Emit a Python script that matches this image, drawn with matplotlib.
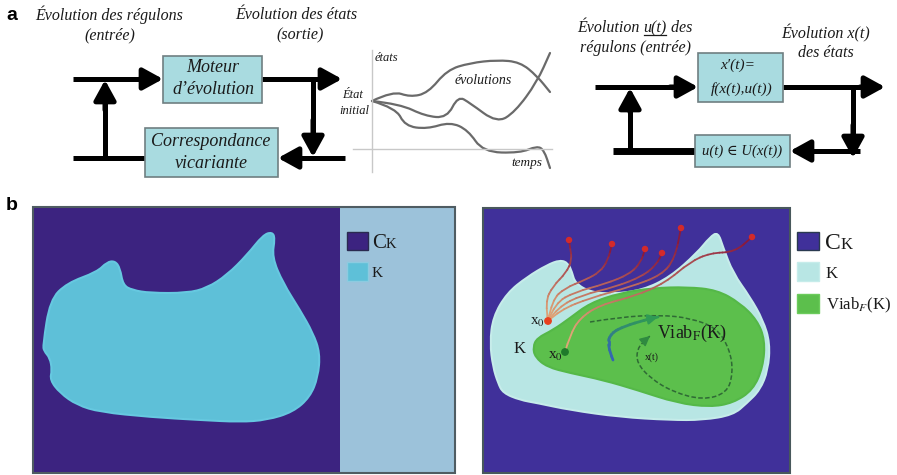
import numpy as np
import matplotlib.pyplot as plt
from matplotlib.path import Path
from matplotlib.patches import PathPatch, Rectangle, Circle
from matplotlib.collections import LineCollection
from matplotlib.colors import to_rgb

plt.rcParams['mathtext.fontset'] = 'stix'
SERIF = ['Liberation Serif', 'DejaVu Serif']
SANS = ['Liberation Sans', 'DejaVu Sans']

# --- panel a: sketch of state evolutions (three curves from the initial state)
evol_a = [(372, 101), (393, 91), (410, 97), (428, 93), (447, 70), (470, 63),
          (497, 60), (520, 62), (537, 76), (550, 92)]
evol_b = [(372, 101), (400, 104), (425, 116), (447, 118), (458, 96), (470, 103),
          (497, 123), (515, 112), (537, 82), (550, 53)]
evol_c = [(372, 101), (396, 108), (405, 126), (427, 129), (450, 122), (468, 130),
          (483, 152), (520, 153), (537, 146), (544, 150), (550, 168)]

# --- panel b: set K (left), set K and viability kernel (right)
k_left = [(43, 345), (50, 300), (67, 283), (97, 272), (107, 262), (115, 261),
          (120, 268), (123, 285), (132, 290), (150, 293), (187, 293), (207, 288),
          (227, 275), (247, 255), (263, 235), (272, 232), (275, 238), (272, 257),
          (283, 283), (300, 310), (313, 333), (320, 353), (318, 377), (310, 397),
          (293, 412), (267, 420), (240, 422), (200, 420), (150, 417), (100, 412),
          (77, 405), (60, 393), (50, 380), (52, 370), (50, 358), (44, 351)]
k_right = [(498, 383), (493, 367), (490, 343), (493, 317), (507, 293), (527, 277),
           (547, 265), (560, 260), (568, 263), (572, 272), (575, 283), (590, 292),
           (613, 294), (643, 290), (670, 277), (697, 253), (710, 237), (718, 232),
           (723, 247), (733, 273), (750, 297), (763, 320), (770, 343), (768, 370),
           (760, 390), (747, 403), (733, 415), (703, 420), (670, 420), (620, 417),
           (570, 410), (537, 403), (520, 400), (503, 393)]
viab = [(533, 347), (537, 338), (553, 330), (570, 318), (590, 303), (620, 293),
        (653, 288), (687, 287), (717, 290), (740, 303), (757, 320), (765, 340),
        (763, 367), (753, 390), (733, 403), (710, 407), (677, 403), (637, 390),
        (603, 380), (570, 373), (547, 367), (535, 357)]

# trajectories leaving K from the red x0, and the one from the green x0
traj_out = [
    [(548, 321), (545, 302), (553, 286), (566, 273), (572, 260), (570, 247), (569, 240)],
    [(548, 321), (552, 300), (565, 288), (585, 280), (600, 272), (608, 260), (612, 244)],
    [(548, 321), (555, 303), (575, 292), (605, 284), (630, 274), (641, 262), (645, 249)],
    [(548, 321), (558, 307), (582, 295), (615, 287), (643, 276), (657, 264), (662, 253)],
    [(548, 321), (560, 310), (590, 298), (630, 287), (662, 275), (675, 258), (681, 228)],
    [(565, 352), (570, 335), (580, 318), (600, 305), (635, 296), (665, 283), (690, 262),
     (710, 253), (735, 252), (752, 237)],
]
blue_arrow = [(613, 360), (607, 345), (611, 333), (625, 326), (645, 320), (658, 317)]
spiral = [(590, 322), (620, 317), (660, 315), (690, 318), (717, 328), (730, 350),
          (733, 373), (727, 393), (703, 400), (673, 392), (650, 378), (637, 363),
          (637, 350), (643, 342), (650, 336)]


def smooth(points, closed=False):
    p = np.asarray(points, float)
    if closed:
        mids = (p + np.roll(p, -1, axis=0)) / 2
        verts = [mids[-1]]
        codes = [Path.MOVETO]
        for i in range(len(p)):
            verts += [p[i], mids[i]]
            codes += [Path.CURVE3, Path.CURVE3]
        verts.append(mids[-1])
        codes.append(Path.CLOSEPOLY)
    else:
        mids = (p[:-1] + p[1:]) / 2
        verts = [p[0]]
        codes = [Path.MOVETO]
        for i in range(1, len(p) - 1):
            verts += [p[i], mids[i]]
            codes += [Path.CURVE3, Path.CURVE3]
        verts.append(p[-1])
        codes.append(Path.LINETO)
    return Path(verts, codes)


fig = plt.figure(figsize=(8.97, 4.75), dpi=100)
ax = fig.add_axes([0, 0, 1, 1])
ax.set_xlim(0, 897)
ax.set_ylim(475, 0)
ax.axis('off')
renderer = fig.canvas.get_renderer()


def arrow(start, tip, lw=3.6):
    ax.annotate('', xy=tip, xytext=start,
                arrowprops=dict(arrowstyle='-|>,head_length=0.6,head_width=0.33',
                                lw=lw, color='black', shrinkA=0, shrinkB=0,
                                mutation_scale=20))


def line(x, y, lw=3.6):
    ax.plot(x, y, color='black', lw=lw, solid_capstyle='butt')


def box(x0, y0, x1, y1):
    ax.add_patch(Rectangle((x0, y0), x1 - x0, y1 - y0, facecolor='#a9dbe0',
                           edgecolor='#6f7f82', lw=1.2, zorder=3))


def runs(x, y, parts, **common):
    out = []
    for s, kw in parts:
        t = ax.text(x, y, s, va='baseline', ha='left', **common, **kw)
        bb = t.get_window_extent(renderer)
        out.append((x, x + bb.width))
        x += bb.width
    return out


def gradient_line(points, c0, c1, lw, **kw):
    poly = smooth(points).to_polygons(closed_only=False)[0]
    segs = np.stack([poly[:-1], poly[1:]], axis=1)
    t = np.linspace(0, 1, len(segs))[:, None]
    cols = (1 - t) * np.array(to_rgb(c0)) + t * np.array(to_rgb(c1))
    ax.add_collection(LineCollection(segs, colors=cols, linewidths=lw,
                                     capstyle='round', **kw))


it = dict(family=SERIF, style='italic', color='#1a1a1a')

# ---------------- panel a, left block diagram
ax.text(12, 15, 'a', family=SANS, weight='bold', fontsize=14, va='center', ha='center')
ax.text(35, 15, 'Évolution des régulons', fontsize=11.5, va='center', **it)
ax.text(110, 35, '(entrée)', fontsize=11.5, va='center', ha='center', **it)
ax.text(235, 15, 'Évolution des états', fontsize=11.5, va='center', **it)
ax.text(300, 35, '(sortie)', fontsize=11.5, va='center', ha='center', **it)

box(163, 56, 262, 103)
ax.text(213, 68, 'Moteur', fontsize=13, va='center', ha='center', zorder=4, **it)
ax.text(213, 90, 'd’évolution', fontsize=13, va='center', ha='center', zorder=4, **it)
box(145, 128, 278, 177)
ax.text(211, 141, 'Correspondance', fontsize=13, va='center', ha='center', zorder=4, **it)
ax.text(211, 163, 'vicariante', fontsize=13, va='center', ha='center', zorder=4, **it)

line([73, 150], [79, 79])
arrow((140, 79), (163, 79))
line([262, 330], [79, 79])
arrow((320, 79), (342, 79))
line([105, 105], [158, 95])
arrow((105, 110), (105, 80))
line([313, 313], [79, 140])
arrow((313, 120), (313, 157))
line([73, 145], [158, 158])
line([345, 290], [158, 158])
arrow((300, 158), (278, 158))

# evolution sketch
ax.plot([372, 372], [50, 172], color='#c8c8c8', lw=1)
ax.plot([353, 552], [149, 149], color='#c8c8c8', lw=1)
for c in (evol_a, evol_b, evol_c):
    ax.add_patch(PathPatch(smooth(c), facecolor='none', edgecolor='#6a6a6a', lw=1.6,
                           capstyle='round'))
ax.text(375, 58, 'états', fontsize=9, va='center', **it)
ax.text(353, 95, 'État', fontsize=9, va='center', ha='center', **it)
ax.text(354, 111, 'initial', fontsize=9, va='center', ha='center', **it)
ax.text(483, 81, 'évolutions', fontsize=10, va='center', ha='center', **it)
ax.text(527, 163, 'temps', fontsize=9.5, va='center', ha='center', **it)

# ---------------- panel a, right block diagram
seg = runs(577, 32, [('Évolution ', {}), ('u(t)', {}), (' des', {})], fontsize=11.5, **it)
ax.plot([seg[1][0] + 1, seg[1][1] - 1], [35, 35], color='#1a1a1a', lw=0.9)
ax.text(580, 48, 'régulons (entrée)', fontsize=11.5, va='center', **it)
ax.text(826, 33, 'Évolution x(t)', fontsize=11.5, va='center', ha='center', **it)
ax.text(826, 53, 'des états', fontsize=11.5, va='center', ha='center', **it)

box(698, 53, 783, 102)
ax.text(738, 65, 'x′(t)=', fontsize=11, va='center', ha='center', zorder=4, **it)
ax.text(742, 89, 'f(x(t),u(t))', fontsize=11, va='center', ha='center', zorder=4, **it)
box(695, 135, 790, 167)
ax.text(742, 151, 'u(t) ∈ U(x(t))', fontsize=10.5, va='center', ha='center',
        zorder=4, **it)

line([595, 680], [87, 87])
arrow((670, 87), (698, 87))
line([783, 870], [87, 87])
arrow((860, 87), (885, 87))
line([630, 630], [152, 100])
arrow((630, 112), (630, 88))
line([853, 853], [87, 140])
arrow((853, 125), (853, 158))
line([613, 695], [151, 151], lw=5)
line([860, 800], [151, 151])
arrow((812, 151), (790, 151))

# ---------------- panel b, left
ax.text(12, 205, 'b', family=SANS, weight='bold', fontsize=14, va='center', ha='center')
ax.add_patch(Rectangle((33, 207), 307, 266, facecolor='#3c2380', edgecolor='none'))
ax.add_patch(Rectangle((340, 207), 115, 266, facecolor='#9cc2da', edgecolor='none'))
ax.add_patch(Rectangle((33, 207), 422, 266, facecolor='none', edgecolor='#4f5c62', lw=1.5))
ax.add_patch(PathPatch(smooth(k_left, closed=True), facecolor='#5ec0d8',
                       edgecolor='#66c8e0', lw=1.5))
ax.add_patch(Rectangle((347, 232), 21, 18, facecolor='#3c2380', edgecolor='#2a2a50', lw=1))
ax.add_patch(Rectangle((347, 262), 21, 19, facecolor='#5ec0d8', edgecolor='#8ccbe0', lw=1))
runs(372, 248, [('C', dict(fontsize=15)), ('K', dict(fontsize=10.5))],
     family=SERIF, color='#1a1a1a')
ax.text(372, 277, 'K', fontsize=11, family=SERIF, color='#1a1a1a', va='baseline')

# ---------------- panel b, right
ax.add_patch(Rectangle((483, 208), 307, 265, facecolor='#40309a', edgecolor='#48585c',
                       lw=1.5, zorder=0))
ax.add_patch(PathPatch(smooth(k_right, closed=True), facecolor='#b8e6e4',
                       edgecolor='#c6ecea', lw=1.5))
ax.add_patch(PathPatch(smooth(viab, closed=True), facecolor='#5cbf4c',
                       edgecolor='#55b848', lw=1.5))

for tr in traj_out:
    gradient_line(tr, '#e3a878', '#8a1a3c', 1.3)
    ex, ey = tr[-1]
    ax.add_patch(Circle((ex, ey), 2.5, color='#d42a2a', zorder=5))
gradient_line(blue_arrow, '#3565b5', '#2f9a55', 2.0)
ax.annotate('', xy=blue_arrow[-1], xytext=blue_arrow[-2],
            arrowprops=dict(arrowstyle='-|>,head_length=0.5,head_width=0.25',
                            color='#2f9a55', lw=1.5, shrinkA=0, shrinkB=0,
                            mutation_scale=12))
ax.add_patch(PathPatch(smooth(spiral), facecolor='none', edgecolor='#2f6a35', lw=1.1,
                       linestyle=(0, (3, 1.5))))
ax.annotate('', xy=spiral[-1], xytext=spiral[-2],
            arrowprops=dict(arrowstyle='-|>,head_length=0.5,head_width=0.25',
                            color='#2f8a40', lw=1.0, shrinkA=0, shrinkB=0,
                            mutation_scale=12))

ax.add_patch(Circle((548, 321), 3.2, color='#e8401f', zorder=6))
ax.add_patch(Circle((565, 352), 3.2, color='#1f7a2a', zorder=6))
ax.text(530, 325, 'x$_0$', fontsize=11, family=SERIF, color='#1a1a1a', va='baseline')
ax.text(514, 353, 'K', fontsize=12, family=SERIF, color='#1a1a1a', va='baseline')
ax.text(548, 359, 'x$_0$', fontsize=11, family=SERIF, color='#1a1a1a', va='baseline')
ax.text(657, 338, 'Viab$_\\mathrm{F}$(K)', fontsize=13, family=SERIF, color='#1a1a1a',
        va='baseline')
ax.text(645, 360, 'x(t)', fontsize=7, family=SERIF, color='#1a1a1a', va='baseline')

ax.add_patch(Rectangle((797, 232), 22, 18, facecolor='#40309a', edgecolor='#2a3a50', lw=1))
ax.add_patch(Rectangle((797, 262), 22, 19, facecolor='#b8e6e4', edgecolor='#c6ecea', lw=1))
ax.add_patch(Rectangle((797, 294), 22, 19, facecolor='#5cbf4c', edgecolor='#6ccc5c', lw=1))
runs(825, 249, [('C', dict(fontsize=17)), ('K', dict(fontsize=12))],
     family=SERIF, color='#1a1a1a')
ax.text(826, 278, 'K', fontsize=12, family=SERIF, color='#1a1a1a', va='baseline')
ax.text(826, 309, 'Viab$_F$(K)', fontsize=12, family=SERIF, color='#1a1a1a',
        va='baseline')

fig.savefig('out.png', dpi=100)
